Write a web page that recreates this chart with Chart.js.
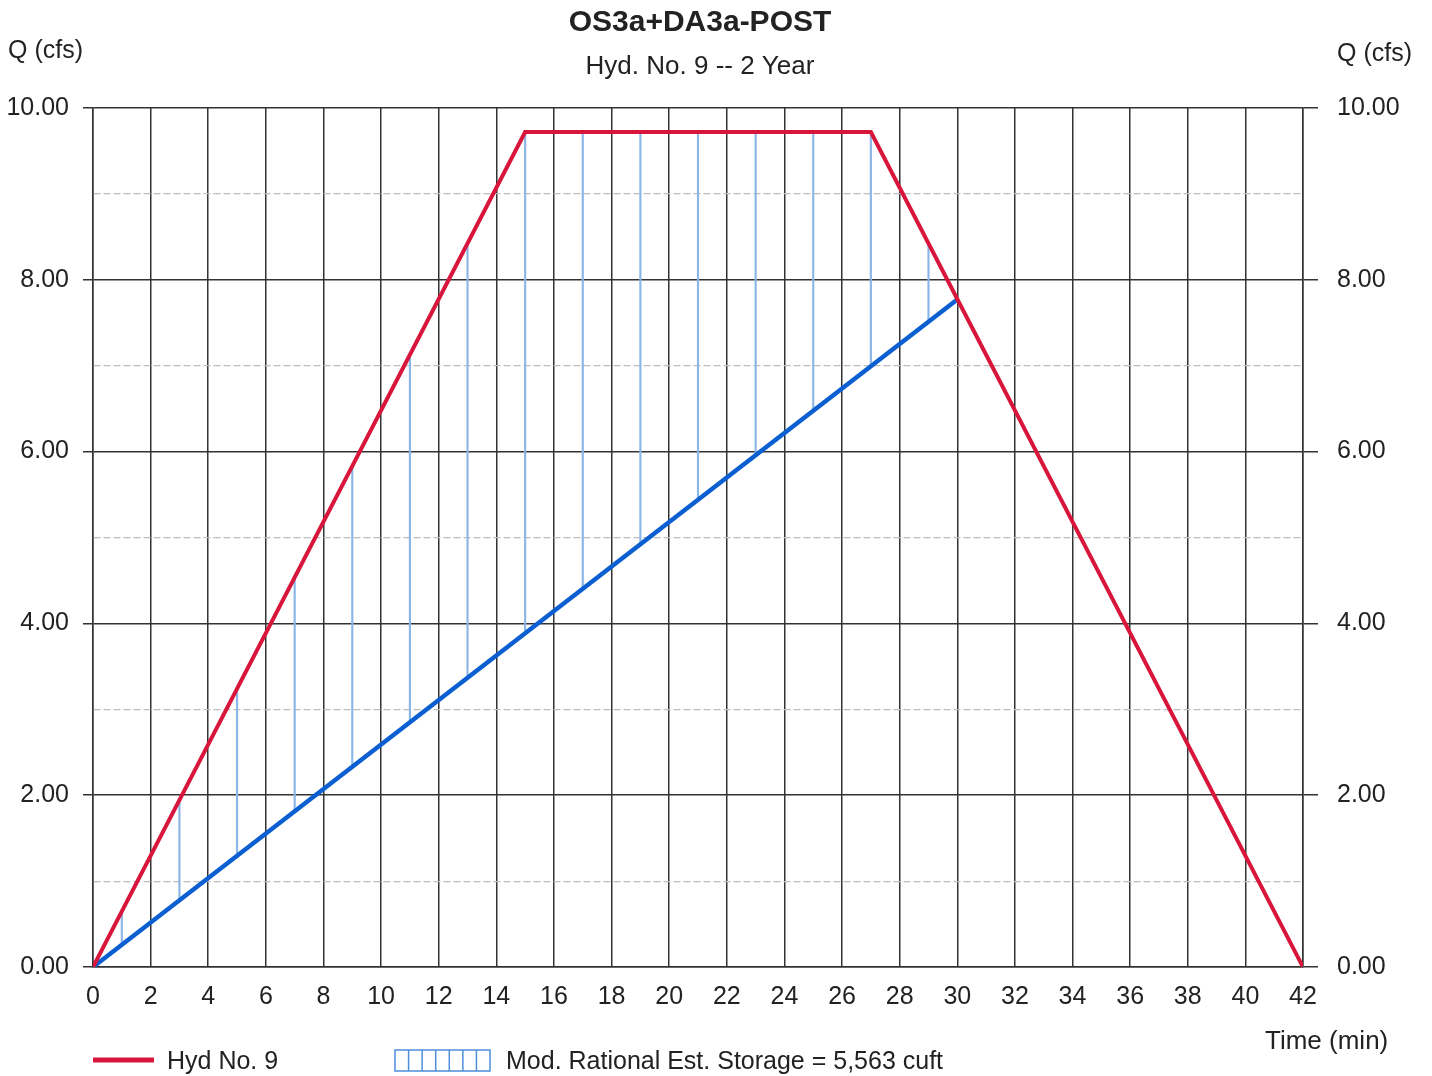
<!DOCTYPE html>
<html lang="en">
<head>
    <meta charset="UTF-8">
    <title>OS3a+DA3a-POST</title>
    <script src="https://cdn.jsdelivr.net/npm/chart.js"></script>
    <style>
        body { margin: 0; background: #fff; }
        canvas { display: block; }
    </style>
</head>
<body>

<canvas id="myChart" width="1432" height="1076"></canvas>

<script>
    // Hydrograph (Hyd No. 9) - vertices
    const hydTime = [0, 15, 27, 42];
    const hydFlow = [0, 9.72, 9.72, 0];

    // Outflow line used for the storage estimate
    const outTime = [0, 30];
    const outFlow = [0, 7.77];

    // Storage hatch lines (odd minutes), from the blue line up to the red line
    const hatchTime = [1, 3, 5, 7, 9, 11, 13, 15, 17, 19, 21, 23, 25, 27, 29];
    const hatchLow  = [0.26, 0.78, 1.30, 1.81, 2.33, 2.85, 3.37, 3.89, 4.40, 4.92, 5.44, 5.96, 6.48, 6.99, 7.51];
    const hatchHigh = [0.65, 1.94, 3.24, 4.54, 5.83, 7.13, 8.42, 9.72, 9.72, 9.72, 9.72, 9.72, 9.72, 9.72, 8.42];

    const xTicks = { min: 0, max: 42, step: 2 };
    const yTicks = { min: 0, max: 10, step: 1 };

    const FONT = 'Liberation Sans, Arial, sans-serif';
    const INK = '#222';
    const GRID = '#333';
    const RED = '#d8163c';
    const BLUE = '#0b5fd1';
    const HATCH = '#8ab6e8';

    function pts(xs, ys) {
        return xs.map(function(x, i) { return { x: x, y: ys[i] }; });
    }

    function isMajor(ctx) {
        return ctx.tick && Math.round(ctx.tick.value) % 2 === 0;
    }

    // draws titles, axis captions and the legend
    const textPlugin = {
        id: 'texts',
        afterDraw: function(chart) {
            const c = chart.ctx;
            c.save();
            c.fillStyle = INK;
            c.textBaseline = 'middle';

            c.textAlign = 'center';
            c.font = 'bold 30px ' + FONT;
            c.fillText('OS3a+DA3a-POST', 700, 23);
            c.font = '26px ' + FONT;
            c.fillText('Hyd. No. 9 -- 2 Year', 700, 67);

            c.textAlign = 'left';
            c.font = '25px ' + FONT;
            c.fillText('Q (cfs)', 8, 51);
            c.fillText('Q (cfs)', 1337, 54);
            c.font = '26px ' + FONT;
            c.fillText('Time (min)', 1265, 1042);

            // legend
            c.font = '25px ' + FONT;
            c.strokeStyle = RED;
            c.lineWidth = 5;
            c.beginPath();
            c.moveTo(93, 1060);
            c.lineTo(154, 1060);
            c.stroke();
            c.fillText('Hyd No. 9', 167, 1062);

            c.strokeStyle = '#4d8fdc';
            c.lineWidth = 1.5;
            c.strokeRect(395, 1050, 95, 21);
            for (let i = 1; i < 7; i++) {
                const x = 395 + i * 95 / 7;
                c.beginPath();
                c.moveTo(x, 1050);
                c.lineTo(x, 1071);
                c.stroke();
            }
            c.fillText('Mod. Rational Est. Storage = 5,563 cuft', 506, 1062);
            c.restore();
        }
    };

    const ctx = document.getElementById('myChart').getContext('2d');
    const myChart = new Chart(ctx, {
        type: 'line',
        data: {
            datasets: [{
                label: 'Hyd No. 9',
                data: pts(hydTime, hydFlow),
                borderColor: RED,
                borderWidth: 4,
                pointRadius: 0,
                tension: 0,
                order: 1
            }, {
                label: 'Outflow',
                data: pts(outTime, outFlow),
                borderColor: BLUE,
                borderWidth: 4.5,
                pointRadius: 0,
                tension: 0,
                order: 2
            }, {
                type: 'bar',
                label: 'Storage',
                data: hatchTime.map(function(t, i) { return { x: t, y: [hatchLow[i], hatchHigh[i]] }; }),
                backgroundColor: HATCH,
                borderWidth: 0,
                barThickness: 1.5,
                grouped: false,
                order: 3
            }]
        },
        options: {
            responsive: false,
            animation: false,
            layout: { padding: { top: 108, left: 0, right: 0, bottom: 0 } },
            plugins: {
                legend: { display: false },
                title: { display: false },
                tooltip: { enabled: false }
            },
            scales: {
                x: {
                    type: 'linear',
                    min: xTicks.min,
                    max: xTicks.max,
                    offset: false,
                    ticks: {
                        stepSize: xTicks.step,
                        color: INK,
                        font: { family: FONT, size: 25 },
                        padding: 15,
                        maxRotation: 0,
                        autoSkip: false
                    },
                    grid: { color: GRID, lineWidth: 1.5, drawTicks: false, offset: false },
                    border: { color: GRID, width: 1.5 },
                    afterFit: function(scale) { scale.height = 109; }
                },
                y: {
                    position: 'left',
                    min: yTicks.min,
                    max: yTicks.max,
                    ticks: {
                        stepSize: yTicks.step,
                        color: INK,
                        font: { family: FONT, size: 25 },
                        padding: 14,
                        callback: function(v) { return v % 2 === 0 ? v.toFixed(2) : ''; }
                    },
                    grid: {
                        color: function(c) { return isMajor(c) ? GRID : '#bdbdbd'; },
                        lineWidth: function(c) { return isMajor(c) ? 1.5 : 1.2; },
                        tickColor: function(c) { return isMajor(c) ? GRID : 'rgba(0,0,0,0)'; },
                        tickLength: 10
                    },
                    border: {
                        color: GRID,
                        width: 1.5,
                        dash: function(c) { return isMajor(c) ? [] : [7, 3]; }
                    },
                    afterFit: function(scale) { scale.width = 93; }
                },
                y2: {
                    position: 'right',
                    min: yTicks.min,
                    max: yTicks.max,
                    ticks: {
                        stepSize: yTicks.step,
                        color: INK,
                        font: { family: FONT, size: 25 },
                        padding: 19,
                        callback: function(v) { return v % 2 === 0 ? v.toFixed(2) : ''; }
                    },
                    grid: {
                        drawOnChartArea: false,
                        color: GRID,
                        lineWidth: 1.5,
                        tickColor: function(c) { return isMajor(c) ? GRID : 'rgba(0,0,0,0)'; },
                        tickLength: 15
                    },
                    border: { color: GRID, width: 1.5 },
                    afterFit: function(scale) { scale.width = 129; }
                }
            }
        },
        plugins: [textPlugin]
    });
</script>

</body>
</html>
